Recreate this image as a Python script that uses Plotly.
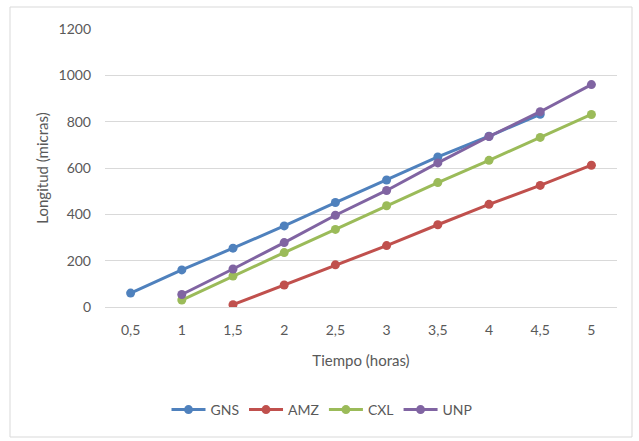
import plotly.graph_objects as go

categories = ["0,5", "1", "1,5", "2", "2,5", "3", "3,5", "4", "4,5", "5"]
gns = [60, 160, 254, 350, 451, 548, 648, 737, 832, None]
amz = [None, None, 10, 95, 182, 265, 355, 443, 525, 612]
cxl = [None, 30, 134, 235, 335, 437, 537, 633, 732, 831]
unp = [None, 54, 164, 278, 396, 503, 622, 736, 843, 960]

series = [("GNS", gns, "#4F81BD"), ("AMZ", amz, "#C0504D"),
          ("CXL", cxl, "#9BBB59"), ("UNP", unp, "#8064A2")]

fig = go.Figure()
for name, vals, col in series:
    fig.add_trace(go.Scatter(x=categories, y=vals, name=name, mode="lines+markers",
                             line=dict(color=col, width=3),
                             marker=dict(color=col, size=9, symbol="circle"),
                             connectgaps=False))

L, R, T, B = 105, 22, 29, 134
W, H = 639, 441
pw, ph = W - L - R, H - T - B

font = "Lato, Carlito, 'Open Sans', sans-serif"
fig.update_layout(
    width=W, height=H, margin=dict(l=L, r=R, t=T, b=B),
    paper_bgcolor="white", plot_bgcolor="white",
    font=dict(family=font, color="#595959", size=14),
    showlegend=True,
    legend=dict(orientation="h", x=(322 - L) / pw, xanchor="center",
                y=(T + ph - 410) / ph, yanchor="middle",
                font=dict(size=14, color="#595959"), itemwidth=34,
                tracegroupgap=0),
    xaxis=dict(type="category", categoryorder="array", categoryarray=categories,
               showgrid=False, showline=True, linecolor="#d9d9d9", linewidth=1,
               ticks="", ticklabelstandoff=10,
               title=dict(text="Tiempo (horas)", font=dict(size=15, color="#595959"), standoff=18),
               range=[-0.5, 9.5], zeroline=False),
    yaxis=dict(range=[0, 1200], dtick=200, showgrid=True, gridcolor="#d9d9d9",
               gridwidth=1, zeroline=False, showline=False, ticks="",
               ticklabelstandoff=13,
               title=dict(text="Longitud (micras)", font=dict(size=15, color="#595959"), standoff=6)),
)

fig.add_shape(type="rect", xref="paper", yref="paper",
              x0=(10 - L) / pw, x1=(632 - L) / pw,
              y0=(T + ph - 437) / ph, y1=(T + ph - 7) / ph,
              line=dict(color="#d9d9d9", width=1), fillcolor="rgba(0,0,0,0)", layer="below")

fig.write_html("out.html")
